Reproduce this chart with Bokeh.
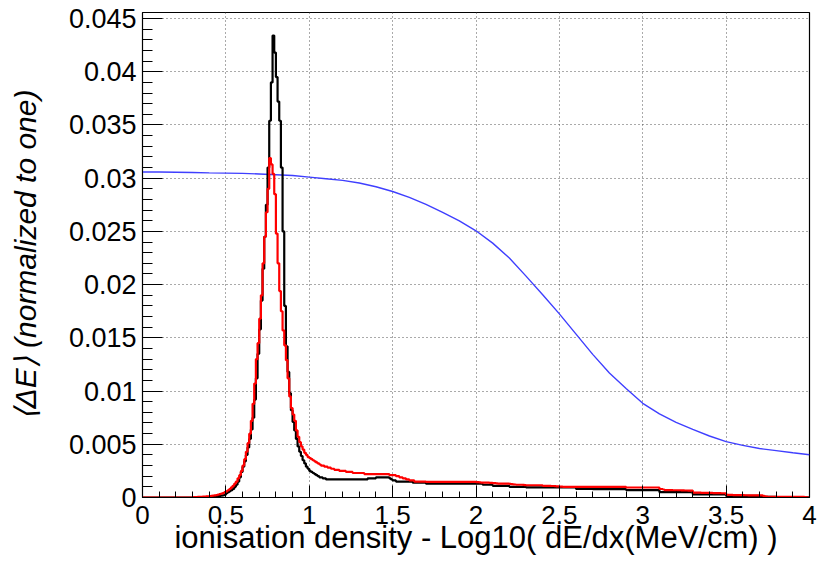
from bokeh.plotting import figure
from bokeh.models import SingleIntervalTicker, NumeralTickFormatter, Range1d
from bokeh.embed import file_html
from bokeh.resources import INLINE

# ---------------- data ----------------
x_lo, x_hi = 0.0, 4.0
y_lo, y_hi = 0.0, 0.04557
bin_width = 0.01

# black histogram, bins of 0.01 from 0 to 4 (one row = 0.1)
black_counts = [
    0, 0, 0, 0, 0, 0, 0, 0, 0, 0,
    0, 0, 0, 0, 0, 0, 0, 0, 0, 0,
    0, 0, 0, 0, 0, 0, 0, 0, 0, 0,
    0, 0, 0, 0, 0, 0.00002, 0.00002, 0.00003, 0.00003, 0.00004,
    0.00005, 0.00006, 0.00007, 0.00008, 0.0001, 0.00012, 0.00014, 0.00017, 0.0002, 0.00025,
    0.0004, 0.0005, 0.0006, 0.0007, 0.0008, 0.001, 0.0012, 0.0015, 0.0019, 0.0024,
    0.0029, 0.0034, 0.004, 0.0047, 0.0055, 0.0064, 0.0075, 0.0092, 0.0112, 0.0135,
    0.0158, 0.0185, 0.0215, 0.0245, 0.0275, 0.031, 0.0354, 0.039, 0.0434, 0.0418,
    0.0395, 0.0372, 0.0354, 0.031, 0.025, 0.018, 0.0142, 0.0118, 0.0098, 0.0082,
    0.0071, 0.0063, 0.0055, 0.0048, 0.0043, 0.0039, 0.0035, 0.0032, 0.0029, 0.0027,
    0.0025, 0.0024, 0.0023, 0.0022, 0.0021, 0.002, 0.0019, 0.0019, 0.0018, 0.0018,
    0.0017, 0.0017, 0.0017, 0.0017, 0.0017, 0.0017, 0.0017, 0.0017, 0.0017, 0.0017,
    0.0017, 0.0017, 0.0017, 0.0017, 0.0017, 0.0017, 0.0017, 0.0017, 0.0017, 0.0017,
    0.0017, 0.0017, 0.0017, 0.0017, 0.0017, 0.0018, 0.0018, 0.0018, 0.0018, 0.0018,
    0.0019, 0.0019, 0.0019, 0.0019, 0.0019, 0.0019, 0.0019, 0.0019, 0.0018, 0.0017,
    0.0016, 0.0016, 0.0015, 0.0015, 0.0015, 0.0015, 0.0015, 0.0015, 0.0015, 0.0015,
    0.0015, 0.0015, 0.0014, 0.0014, 0.0014, 0.0014, 0.0014, 0.0014, 0.0014, 0.0014,
    0.0013, 0.0013, 0.0013, 0.0013, 0.0013, 0.0013, 0.0013, 0.0013, 0.0013, 0.0013,
    0.0013, 0.0013, 0.0013, 0.0013, 0.0013, 0.0013, 0.0013, 0.0013, 0.0013, 0.0013,
    0.0013, 0.0013, 0.0013, 0.0013, 0.0013, 0.0013, 0.0013, 0.0013, 0.0013, 0.0013,
    0.0013, 0.0013, 0.0013, 0.0013, 0.0012, 0.0012, 0.0012, 0.0012, 0.0012, 0.0012,
    0.0011, 0.0011, 0.0011, 0.0011, 0.0011, 0.0011, 0.0011, 0.0011, 0.0011, 0.0011,
    0.001, 0.001, 0.001, 0.001, 0.001, 0.001, 0.001, 0.001, 0.001, 0.001,
    0.00095, 0.00095, 0.00095, 0.00095, 0.00095, 0.00095, 0.00095, 0.00095, 0.00095, 0.00095,
    0.00095, 0.00095, 0.00095, 0.00095, 0.00095, 0.00095, 0.00095, 0.00095, 0.00095, 0.00095,
    0.00095, 0.00095, 0.00095, 0.00095, 0.00095, 0.00095, 0.00095, 0.00095, 0.00095, 0.00095,
    0.0008, 0.0008, 0.0008, 0.0008, 0.0008, 0.0008, 0.0008, 0.0008, 0.0008, 0.0008,
    0.00078, 0.00078, 0.00078, 0.00078, 0.00078, 0.00078, 0.00078, 0.00078, 0.00078, 0.00078,
    0.00078, 0.00078, 0.00078, 0.00078, 0.00078, 0.00078, 0.00078, 0.00078, 0.00078, 0.00078,
    0.0007, 0.0007, 0.0007, 0.0007, 0.0007, 0.0007, 0.0007, 0.0007, 0.0007, 0.0007,
    0.0007, 0.0007, 0.0007, 0.0007, 0.0007, 0.0007, 0.0007, 0.0007, 0.0007, 0.0007,
    0.0005, 0.0005, 0.0005, 0.0005, 0.0005, 0.0005, 0.0005, 0.0005, 0.0005, 0.0005,
    0.0005, 0.0005, 0.0005, 0.0005, 0.0005, 0.0005, 0.0005, 0.0005, 0.0005, 0.0005,
    0.0003, 0.0003, 0.0003, 0.0003, 0.0003, 0.0003, 0.0003, 0.0003, 0.0003, 0.0003,
    0.0003, 0.0003, 0.0003, 0.0003, 0.0003, 0.0003, 0.0003, 0.0003, 0.0003, 0.0003,
    0.00015, 0.00015, 0.00015, 0.00015, 0.00015, 0.00015, 0.00015, 0.00015, 0.00015, 0.00015,
    0.00015, 0.00015, 0.00015, 0.00015, 0.00015, 0.00015, 0.00015, 0.00015, 0.00015, 0.00015,
    0.00005, 0.00005, 0.00005, 0.00005, 0.00005, 0.00005, 0.00005, 0.00005, 0.00005, 0.00005,
    0.00004, 0.00004, 0.00004, 0.00004, 0.00004, 0.00004, 0.00004, 0.00004, 0.00004, 0.00004,
    0.00003, 0.00003, 0.00003, 0.00003, 0.00003, 0.00003, 0.00002, 0.00002, 0.00002, 0.00002,
]

# red histogram, same binning
red_counts = [
    0, 0, 0, 0, 0, 0, 0, 0, 0, 0,
    0, 0, 0, 0, 0, 0, 0, 0, 0, 0,
    0, 0, 0, 0, 0, 0, 0, 0, 0, 0,
    0.00003, 0.00003, 0.00004, 0.00005, 0.00006, 0.00007, 0.00008, 0.00009, 0.0001, 0.00011,
    0.00013, 0.00015, 0.00017, 0.0002, 0.00023, 0.00027, 0.00031, 0.00036, 0.00042, 0.0005,
    0.00058, 0.00068, 0.0008, 0.00095, 0.0011, 0.0013, 0.0015, 0.0018, 0.0021, 0.0025,
    0.003, 0.0036, 0.0043, 0.0051, 0.006, 0.0072, 0.0088, 0.0107, 0.013, 0.0145,
    0.0168, 0.019, 0.022, 0.0245, 0.0268, 0.029, 0.0319, 0.0313, 0.0304, 0.0285,
    0.0248, 0.022, 0.0194, 0.0175, 0.0157, 0.0143, 0.0129, 0.0112, 0.0095, 0.0084,
    0.0078, 0.0072, 0.0063, 0.0057, 0.0052, 0.0048, 0.0045, 0.0042, 0.004, 0.0038,
    0.0037, 0.0036, 0.0035, 0.0034, 0.0033, 0.0032, 0.0031, 0.003, 0.003, 0.0029,
    0.0029, 0.0028, 0.0028, 0.0027, 0.0027, 0.0026, 0.0026, 0.0026, 0.0025, 0.0025,
    0.0025, 0.0025, 0.0024, 0.0024, 0.0024, 0.0024, 0.0023, 0.0023, 0.0023, 0.0023,
    0.0023, 0.0023, 0.0023, 0.0022, 0.0022, 0.0022, 0.0022, 0.0022, 0.0022, 0.0022,
    0.0022, 0.0022, 0.0022, 0.0022, 0.0022, 0.0022, 0.0022, 0.0022, 0.0021, 0.0021,
    0.0021, 0.0021, 0.002, 0.002, 0.0019, 0.0019, 0.0018, 0.0018, 0.0017, 0.0017,
    0.0016, 0.0016, 0.0016, 0.0015, 0.0015, 0.0015, 0.0015, 0.0015, 0.0015, 0.0015,
    0.00146, 0.00146, 0.00146, 0.00146, 0.00146, 0.00146, 0.00146, 0.00146, 0.00146, 0.00146,
    0.00146, 0.00146, 0.00146, 0.00146, 0.00146, 0.00146, 0.00146, 0.00146, 0.00146, 0.00146,
    0.00146, 0.00146, 0.00146, 0.00146, 0.00146, 0.00146, 0.00146, 0.00146, 0.00146, 0.00146,
    0.00145, 0.00144, 0.00142, 0.0014, 0.0014, 0.0014, 0.0014, 0.0014, 0.00138, 0.00137,
    0.00136, 0.00135, 0.00133, 0.0013, 0.0013, 0.0013, 0.0013, 0.0013, 0.0013, 0.0013,
    0.00128, 0.00126, 0.00124, 0.00122, 0.0012, 0.0012, 0.0012, 0.0012, 0.00118, 0.00116,
    0.00115, 0.00115, 0.00115, 0.00115, 0.00115, 0.00115, 0.00115, 0.00115, 0.00115, 0.00115,
    0.0011, 0.0011, 0.0011, 0.0011, 0.0011, 0.00108, 0.00108, 0.00106, 0.00105, 0.00105,
    0.00102, 0.00102, 0.001, 0.001, 0.001, 0.001, 0.001, 0.001, 0.001, 0.001,
    0.001, 0.001, 0.001, 0.001, 0.001, 0.001, 0.001, 0.001, 0.001, 0.001,
    0.001, 0.001, 0.001, 0.001, 0.001, 0.001, 0.001, 0.001, 0.001, 0.001,
    0.001, 0.001, 0.001, 0.001, 0.001, 0.001, 0.001, 0.001, 0.001, 0.001,
    0.00094, 0.00094, 0.00094, 0.00094, 0.00094, 0.00094, 0.00094, 0.00094, 0.00094, 0.00094,
    0.00094, 0.00094, 0.00094, 0.00094, 0.00094, 0.00094, 0.00094, 0.00094, 0.00094, 0.00094,
    0.0008, 0.0008, 0.00075, 0.0007, 0.0007, 0.0007, 0.0007, 0.0007, 0.00068, 0.00068,
    0.00068, 0.00068, 0.00068, 0.00067, 0.00067, 0.00066, 0.00066, 0.00065, 0.00065, 0.00065,
    0.00045, 0.00045, 0.00045, 0.00045, 0.00045, 0.00044, 0.00044, 0.00044, 0.00043, 0.00043,
    0.00043, 0.00043, 0.00042, 0.00042, 0.00042, 0.00041, 0.00041, 0.0004, 0.0004, 0.0004,
    0.00025, 0.00025, 0.00024, 0.00024, 0.00023, 0.00023, 0.00022, 0.00022, 0.00022, 0.00022,
    0.00022, 0.00021, 0.00021, 0.0002, 0.0002, 0.0002, 0.0002, 0.0002, 0.0002, 0.0002,
    0.0002, 0.0002, 0.00015, 0.0001, 0.00008, 0.00007, 0.00006, 0.00006, 0.00006, 0.00006,
    0.00006, 0.00006, 0.00006, 0.00006, 0.00006, 0.00006, 0.00006, 0.00006, 0.00006, 0.00006,
    0.00006, 0.00006, 0.00006, 0.00006, 0.00006, 0.00005, 0.00005, 0.00004, 0.00002, 0,
]

# blue curve
blue_x = [0.0, 0.1, 0.2, 0.3, 0.4, 0.5, 0.6, 0.7, 0.8, 0.9,
          1.0, 1.1, 1.2, 1.3, 1.4, 1.5, 1.6, 1.7, 1.8, 1.9,
          2.0, 2.1, 2.2, 2.3, 2.4, 2.5, 2.6, 2.7, 2.8, 2.9,
          3.0, 3.1, 3.2, 3.3, 3.4, 3.5, 3.6, 3.7, 3.8, 3.9, 4.0]
blue_y = [0.03058, 0.03058, 0.03056, 0.03053, 0.0305, 0.03048, 0.03045, 0.0304, 0.03033, 0.03025,
          0.0301, 0.02995, 0.0298, 0.02955, 0.0292, 0.02875, 0.0282, 0.02755, 0.0268, 0.026,
          0.02506, 0.0239, 0.0225, 0.0208, 0.01905, 0.01725, 0.01535, 0.01345, 0.0117, 0.01025,
          0.00885, 0.00785, 0.00705, 0.0064, 0.00578, 0.00525, 0.0049, 0.0046, 0.0044, 0.0042, 0.00402]

x_title = "ionisation density - Log10( dE/dx(MeV/cm) )"
y_title = "\u27e8\u0394E\u27e9 (normalized to one)"

# ---------------- plot ----------------
FONT = "Liberation Sans"

p = figure(width=818, height=562, output_backend="svg", toolbar_location=None,
           x_range=Range1d(x_lo, x_hi), y_range=Range1d(y_lo, y_hi),
           min_border_left=142, min_border_right=9, min_border_top=12, min_border_bottom=65)
p.background_fill_color = "white"
p.border_fill_color = "white"
p.outline_line_color = "black"
p.outline_line_width = 1.2

edges = [x_lo + i * bin_width for i in range(len(black_counts) + 1)]

p.line(blue_x, blue_y, line_color="#3f3fff", line_width=1.4)
p.step(edges, black_counts + [black_counts[-1]], mode="after", line_color="black", line_width=2.2)
p.step(edges, red_counts + [red_counts[-1]], mode="after", line_color="#ff0000", line_width=2.2)

# axes
p.xaxis.ticker = SingleIntervalTicker(interval=0.5, num_minor_ticks=5)
p.yaxis.ticker = SingleIntervalTicker(interval=0.005, num_minor_ticks=5)
p.xaxis.formatter = NumeralTickFormatter(format="0.[0]")
p.yaxis.formatter = NumeralTickFormatter(format="0.[000]")

for ax in (p.xaxis, p.yaxis):
    ax.axis_line_color = "black"
    ax.major_tick_line_color = "black"
    ax.minor_tick_line_color = "black"
    ax.major_tick_out = 0
    ax.minor_tick_out = 0
    ax.major_label_text_font = FONT
    ax.major_label_text_font_size = "26px"
    ax.major_label_text_color = "black"
    ax.axis_label_text_font = FONT
    ax.axis_label_text_color = "black"

p.yaxis.major_label_text_font_size = "27px"
p.xaxis.major_tick_in = 12
p.xaxis.minor_tick_in = 6
p.yaxis.major_tick_in = 20
p.yaxis.minor_tick_in = 10
p.xaxis.major_label_standoff = 8
p.yaxis.major_label_standoff = 6

p.yaxis.axis_label = y_title
p.yaxis.axis_label_text_font_style = "italic"
p.yaxis.axis_label_text_font_size = "30px"
p.yaxis.axis_label_standoff = 24

p.xaxis.axis_label = x_title
p.xaxis.axis_label_text_font_style = "normal"
p.xaxis.axis_label_text_font_size = "31px"
p.xaxis.axis_label_standoff = -7

for g in (p.xgrid, p.ygrid):
    g.grid_line_color = "#555555"
    g.grid_line_dash = "1 3"
    g.grid_line_width = 1

open("out.html", "w").write(file_html(p, INLINE))
